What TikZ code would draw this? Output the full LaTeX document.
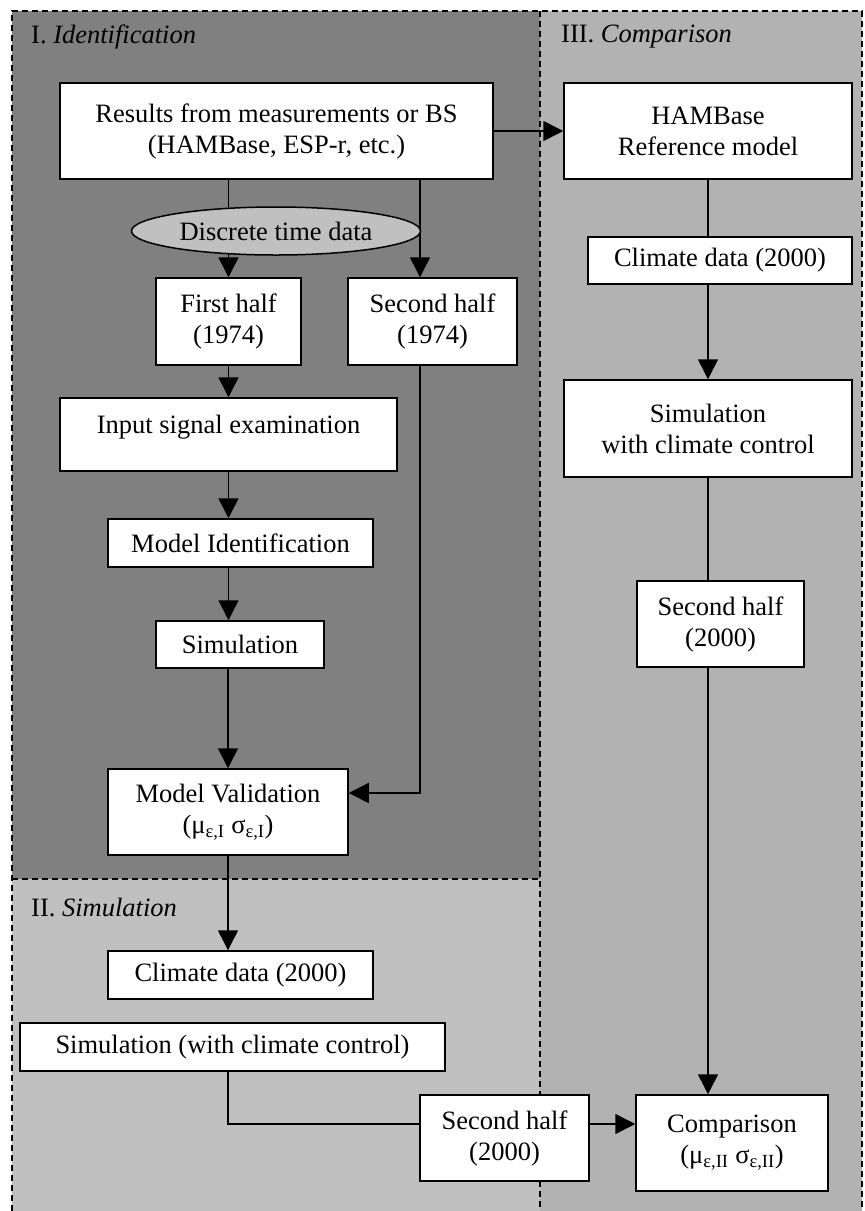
\documentclass[tikz,border=0pt]{standalone}
\usepackage{fontspec}
\setmainfont{Liberation Serif}
\usepackage{xcolor}
\usetikzlibrary{arrows.meta,shapes.geometric}
\definecolor{black}{rgb}{0,0,0}
\definecolor{darkzone}{rgb}{0.5,0.5,0.5}
\definecolor{midzone}{rgb}{0.698,0.698,0.698}
\definecolor{lightzone}{rgb}{0.753,0.753,0.753}

\begin{document}
\begin{tikzpicture}[x=1pt,y=-1pt,font=\fontsize{26.5}{31}\selectfont]
    \tikzstyle{block}=[draw=black,fill=white,line width=1.5pt,inner sep=0pt,align=center]
    \tikzstyle{datum}=[ellipse,draw=black,fill=lightzone,line width=1.5pt,inner sep=0pt]
    \tikzstyle{flow}=[line width=1.5pt,-{Triangle[length=20pt,width=20pt]}]
    \tikzstyle{link}=[line width=1.5pt]
    \tikzstyle{divider}=[line width=1.5pt,dash pattern=on 6pt off 4pt]

    \useasboundingbox (0,0) rectangle (865,1211);

    % the three zones
    \fill[darkzone] (12,11) rectangle (540,879);
    \fill[lightzone] (12,879) rectangle (540,1211);
    \fill[midzone] (540,11) rectangle (862,1211);
    \draw[divider] (12,1211) -- (12,11) -- (862,11) -- (862,1211);
    \draw[divider] (540,11) -- (540,1211);
    \draw[divider] (12,879) -- (540,879);

    \node[anchor=west,inner sep=0pt] (labelI) at (31,37) {I. \textit{Identification}};
    \node[anchor=west,inner sep=0pt] (labelII) at (31,907) {II. \textit{Simulation}};
    \node[anchor=west,inner sep=0pt] (labelIII) at (561,37) {III. \textit{Comparison}};

    \node[block,minimum width=433pt,minimum height=96pt] (res) at (276.5,131) {Results from measurements or BS\\(HAMBase, ESP-r, etc.)};
    \node[block,minimum width=288pt,minimum height=96pt] (ham) at (708,131) {HAMBase\\Reference model};
    \node[block,minimum width=145pt,minimum height=87pt] (first1974) at (228.5,321.5) {First half\\(1974)};
    \node[block,minimum width=169pt,minimum height=87pt] (second1974) at (432.5,321.5) {Second half\\(1974)};
    \node[block,minimum width=264pt,minimum height=47pt] (climateR) at (720,260.5) {Climate data (2000)};
    \node[block,minimum width=337pt,minimum height=73pt,text depth=21pt] (input) at (228.5,434.5) {Input signal examination};
    \node[block,minimum width=265pt,minimum height=48pt] (modelid) at (240.5,543) {Model Identification};
    \node[block,minimum width=168pt,minimum height=47pt] (simI) at (240,644.5) {Simulation};
    \node[block,minimum width=240pt,minimum height=86pt] (modelval) at (228,812) {Model Validation\\(μ\textsubscript{ε,I} σ\textsubscript{ε,I})};
    \node[block,minimum width=288pt,minimum height=97pt] (simR) at (708,428.5) {Simulation\\with climate control};
    \node[block,minimum width=167pt,minimum height=86pt] (secondR) at (720.5,624) {Second half\\(2000)};
    \node[block,minimum width=265pt,minimum height=48pt] (climateL) at (240.5,975) {Climate data (2000)};
    \node[block,minimum width=425pt,minimum height=48pt] (simL) at (232.5,1047) {Simulation (with climate control)};
    \node[block,minimum width=169pt,minimum height=86pt] (secondB) at (504.5,1138) {Second half\\(2000)};
    \node[block,minimum width=192pt,minimum height=96pt] (comp) at (732,1143) {Comparison\\(μ\textsubscript{ε,II} σ\textsubscript{ε,II})};

    \coordinate (colII) at (420,131);

    % identification
    \draw[flow] (res) -- (ham);
    \draw[flow] (first1974 |- res.south) -- (first1974);
    \draw[flow] (res.south -| colII) -- (second1974.north -| colII);
    \draw[flow] (first1974) -- (input);
    \draw[flow] (input.south) -- (input.south |- modelid.north);
    \draw[flow] (modelid.south -| input) -- (simI.north -| input);
    \draw[flow] (simI.south -| modelval) -- (modelval);
    \draw[flow] (second1974.south -| colII) |- ([yshift=19pt]modelval.east);

    % ellipse goes over the line
    \node[datum,minimum width=289pt,minimum height=48pt] (discrete) at (276,231) {Discrete time data};

    % simulation
    \draw[flow] (modelval) -- (modelval |- climateL.north);
    \draw[link] (simL.south -| modelval) |- ([yshift=14pt]secondB.west);
    \draw[flow] ([yshift=14pt]secondB.east) -- ([yshift=14pt]secondB.east -| comp.west);

    % comparison
    \draw[link] (ham) -- (ham |- climateR.north);
    \draw[flow] (climateR.south -| ham) -- (simR);
    \draw[link] (simR) -- (simR |- secondR.north);
    \draw[flow] (secondR.south -| simR) -- (comp.north -| simR);
\end{tikzpicture}
\end{document}
